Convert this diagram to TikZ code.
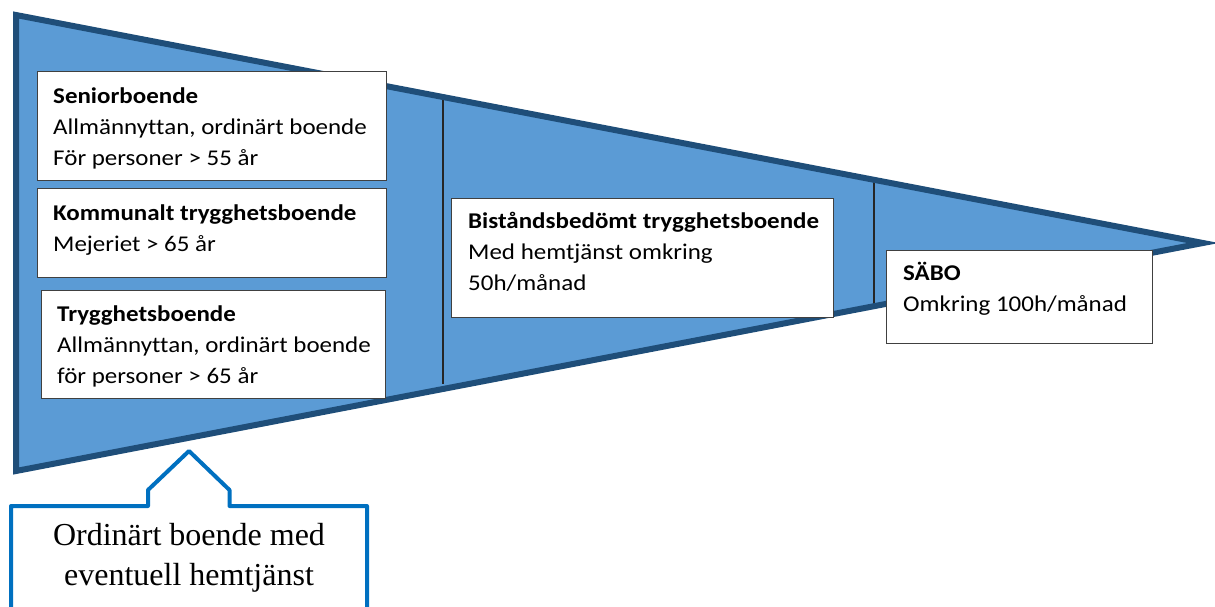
\documentclass[tikz,border=0pt]{standalone}
\usepackage{fontspec}
\usetikzlibrary{calc}
\newfontfamily\calfont{Carlito}[FakeStretch=1.11, Ligatures=NoCommon]
\newfontfamily\serfont{Liberation Serif}
\definecolor{wedgefill}{RGB}{91,155,213}
\definecolor{wedgeline}{RGB}{31,78,121}
\definecolor{boxline}{RGB}{64,64,64}
\definecolor{calloutline}{RGB}{0,112,192}
\newcommand\firstline{\rule{0pt}{22pt}}
\newcommand\firstserif{\rule{0pt}{28pt}}
\tikzset{
  infobox/.style={draw=boxline, line width=1.2pt, fill=white, rectangle,
    inner sep=0pt, anchor=north west},
  infotext/.style={inner sep=0pt, anchor=north west, align=left,
    font=\calfont\fontsize{22.5}{31}\selectfont},
  divider/.style={draw=black!85, line width=1.2pt},
}
\begin{document}
\begin{tikzpicture}[x=1pt, y=-1pt]
\useasboundingbox (0,0) rectangle (1215,607);

% wedge corners
\coordinate (tl) at (16,15);
\coordinate (bl) at (16,471);
\coordinate (tip) at (1203,243);

% wedge body
\fill[wedgefill] (tl) -- (tip) -- (bl) -- cycle;

% dividers between the stages
\coordinate (d1t) at ($(tl)!0.3597!(tip)$);
\coordinate (d1b) at ($(bl)!0.3597!(tip)+(0,-5)$);
\coordinate (d2t) at ($(tl)!0.7228!(tip)$);
\coordinate (d2b) at ($(bl)!0.7228!(tip)$);
\draw[divider] (d1t) -- (d1b);
\draw[divider] (d2t) -- (d2b);

% wedge outline
\draw[wedgeline, line width=6pt, line join=miter] (tl) -- (tip) -- (bl) -- cycle;

% stage boxes
\node[infobox, minimum width=349, minimum height=109] (sen) at (37,71) {};
\node[infotext] (sent) at ($(sen.north west)+(16,10)$)
  {\firstline\textbf{Seniorboende}\\Allmännyttan, ordinärt boende\\För personer > 55 år};

\node[infobox, minimum width=349, minimum height=89] (kom) at (37,188) {};
\node[infotext] (komt) at ($(kom.north west)+(16,10)$)
  {\firstline\textbf{Kommunalt trygghetsboende}\\Mejeriet > 65 år};

\node[infobox, minimum width=344, minimum height=108] (tryg) at (41,290) {};
\node[infotext] (trygt) at ($(tryg.north west)+(16,9)$)
  {\firstline\textbf{Trygghetsboende}\\Allmännyttan, ordinärt boende\\för personer > 65 år};

\node[infobox, minimum width=382, minimum height=119] (bist) at (451,198) {};
\node[infotext] (bistt) at ($(bist.north west)+(17,8)$)
  {\firstline\textbf{Biståndsbedömt trygghetsboende}\\Med hemtjänst omkring\\50h/månad};

\node[infobox, minimum width=266, minimum height=93] (sabo) at (886,250) {};
\node[infotext] (sabot) at ($(sabo.north west)+(17,8)$)
  {\firstline\textbf{SÄBO}\\Omkring 100h/månad};

% callout below the wedge
\coordinate (cpeak) at (189,451);
\draw[calloutline, line width=4pt, line join=round, fill=white]
  (11,612) -- (11,506) -- (148,506) -- (148,490) -- (cpeak)
  -- (229.5,490) -- (229.5,506) -- (367,506) -- (367,612);
\node[inner sep=0pt, anchor=north, align=center,
  font=\serfont\fontsize{32}{40}\selectfont] (calltext) at (189,517)
  {\firstserif Ordinärt boende med\\eventuell hemtjänst};
\end{tikzpicture}
\end{document}
